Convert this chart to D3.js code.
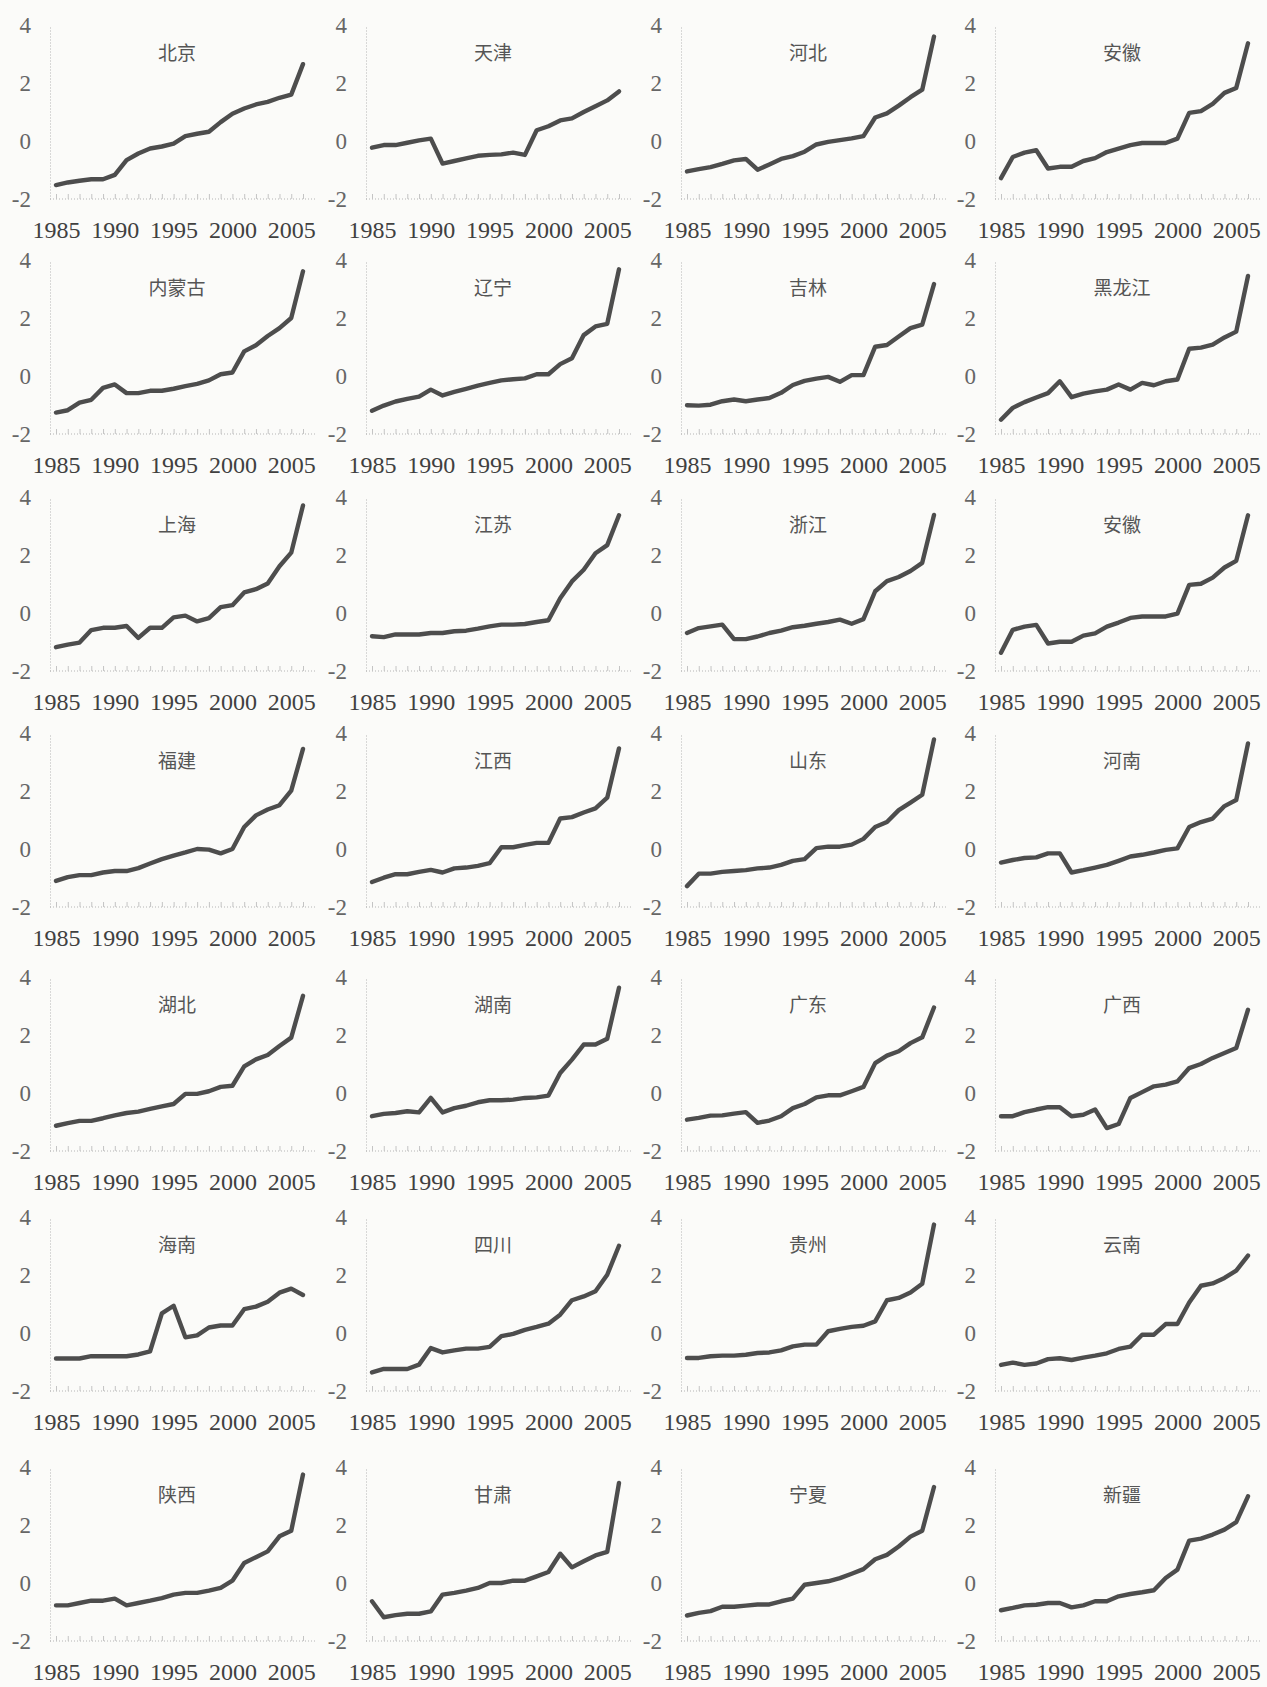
<!DOCTYPE html>
<html>
<head>
<meta charset="utf-8">
<script src="https://cdn.jsdelivr.net/npm/d3@7.9.0/dist/d3.min.js"></script>
<style>
  body { margin: 0; background: #fbfbf9; }
  svg { display: block; }
</style>
</head>
<body>
<svg id="chart" width="1267" height="1687"></svg>
<script>
// years on the x axis, 1985-2006
const years = [1985, 1986, 1987, 1988, 1989, 1990, 1991, 1992, 1993, 1994, 1995,
               1996, 1997, 1998, 1999, 2000, 2001, 2002, 2003, 2004, 2005, 2006];
const xTicks = [1985, 1990, 1995, 2000, 2005];
const yTicks = [4, 2, 0, -2];

// values
const beijing   = [-1.52,-1.43,-1.37,-1.32,-1.32,-1.17,-0.66,-0.43,-0.26,-0.19,-0.09,0.17,0.25,0.32,0.65,0.94,1.12,1.26,1.35,1.49,1.60,2.65];
const tianjin   = [-0.23,-0.14,-0.14,-0.06,0.02,0.08,-0.78,-0.69,-0.60,-0.51,-0.48,-0.46,-0.40,-0.48,0.37,0.51,0.71,0.78,1.00,1.20,1.40,1.71];
const hebei     = [-1.05,-0.97,-0.90,-0.79,-0.67,-0.62,-0.99,-0.81,-0.62,-0.52,-0.37,-0.12,-0.03,0.03,0.09,0.17,0.81,0.95,1.22,1.51,1.77,3.60];
const anhuiA    = [-1.28,-0.55,-0.40,-0.32,-0.95,-0.89,-0.89,-0.69,-0.59,-0.38,-0.26,-0.14,-0.07,-0.07,-0.07,0.08,0.97,1.03,1.28,1.66,1.83,3.37];
const neimenggu = [-1.26,-1.18,-0.92,-0.82,-0.41,-0.29,-0.59,-0.59,-0.51,-0.51,-0.44,-0.35,-0.27,-0.15,0.06,0.12,0.85,1.06,1.38,1.65,2.00,3.61];
const liaoning  = [-1.20,-1.02,-0.88,-0.79,-0.71,-0.47,-0.67,-0.55,-0.44,-0.33,-0.24,-0.15,-0.11,-0.08,0.06,0.06,0.41,0.61,1.41,1.71,1.80,3.68];
const jilin     = [-1.01,-1.02,-0.99,-0.87,-0.81,-0.87,-0.81,-0.76,-0.58,-0.31,-0.17,-0.09,-0.03,-0.20,0.03,0.03,1.01,1.07,1.36,1.65,1.77,3.17];
const heilongjiang = [-1.51,-1.10,-0.90,-0.74,-0.59,-0.18,-0.73,-0.61,-0.53,-0.47,-0.29,-0.47,-0.24,-0.32,-0.18,-0.12,0.94,0.98,1.08,1.33,1.53,3.45];
const shanghai  = [-1.18,-1.09,-1.02,-0.59,-0.51,-0.51,-0.45,-0.86,-0.51,-0.51,-0.15,-0.09,-0.29,-0.18,0.20,0.27,0.71,0.82,1.02,1.61,2.08,3.71];
const jiangsu   = [-0.80,-0.83,-0.74,-0.74,-0.74,-0.69,-0.69,-0.63,-0.61,-0.54,-0.46,-0.40,-0.40,-0.38,-0.31,-0.25,0.51,1.09,1.49,2.06,2.34,3.37];
const zhejiang  = [-0.69,-0.52,-0.46,-0.40,-0.90,-0.90,-0.81,-0.69,-0.61,-0.49,-0.44,-0.37,-0.31,-0.23,-0.37,-0.21,0.75,1.10,1.24,1.45,1.73,3.38];
const anhuiB    = [-1.37,-0.58,-0.47,-0.41,-1.05,-0.99,-0.99,-0.78,-0.70,-0.47,-0.33,-0.17,-0.12,-0.12,-0.12,-0.02,0.97,1.01,1.22,1.57,1.80,3.37];
const fujian    = [-1.10,-0.97,-0.90,-0.90,-0.81,-0.76,-0.76,-0.66,-0.50,-0.35,-0.23,-0.12,0.00,-0.02,-0.15,0.00,0.76,1.16,1.36,1.51,2.01,3.45];
const jiangxi   = [-1.14,-0.99,-0.87,-0.87,-0.79,-0.72,-0.81,-0.67,-0.64,-0.58,-0.49,0.06,0.06,0.14,0.21,0.21,1.05,1.10,1.26,1.40,1.77,3.47];
const shandong  = [-1.28,-0.85,-0.85,-0.79,-0.76,-0.73,-0.67,-0.64,-0.55,-0.41,-0.35,0.03,0.08,0.08,0.15,0.35,0.76,0.93,1.34,1.60,1.87,3.78];
const henan     = [-0.47,-0.38,-0.31,-0.29,-0.15,-0.15,-0.81,-0.73,-0.64,-0.55,-0.41,-0.26,-0.20,-0.12,-0.03,0.02,0.76,0.93,1.05,1.48,1.69,3.64];
const hubei     = [-1.13,-1.04,-0.96,-0.96,-0.87,-0.77,-0.69,-0.64,-0.55,-0.46,-0.38,-0.03,-0.03,0.06,0.21,0.25,0.92,1.16,1.31,1.62,1.91,3.35];
const hunan     = [-0.80,-0.72,-0.69,-0.63,-0.67,-0.17,-0.67,-0.52,-0.44,-0.32,-0.25,-0.25,-0.23,-0.17,-0.15,-0.09,0.69,1.15,1.67,1.67,1.87,3.63];
const guangdong = [-0.92,-0.86,-0.78,-0.77,-0.71,-0.66,-1.03,-0.95,-0.80,-0.52,-0.38,-0.15,-0.08,-0.08,0.06,0.21,1.03,1.29,1.44,1.72,1.92,2.95];
const guangxi   = [-0.80,-0.80,-0.66,-0.57,-0.49,-0.49,-0.80,-0.75,-0.57,-1.21,-1.07,-0.17,0.03,0.23,0.29,0.40,0.86,1.00,1.21,1.38,1.55,2.87];
const hainan    = [-0.88,-0.88,-0.88,-0.80,-0.80,-0.80,-0.80,-0.74,-0.63,0.68,0.94,-0.15,-0.08,0.19,0.26,0.26,0.82,0.91,1.08,1.39,1.53,1.31];
const sichuan   = [-1.36,-1.24,-1.24,-1.24,-1.09,-0.52,-0.67,-0.60,-0.54,-0.54,-0.48,-0.11,-0.03,0.11,0.21,0.32,0.63,1.13,1.26,1.44,2.01,3.01];
const guizhou   = [-0.86,-0.86,-0.80,-0.78,-0.78,-0.75,-0.69,-0.67,-0.60,-0.46,-0.40,-0.40,0.06,0.14,0.21,0.25,0.40,1.13,1.21,1.40,1.70,3.74];
const yunnan    = [-1.10,-1.02,-1.10,-1.05,-0.90,-0.87,-0.93,-0.85,-0.78,-0.70,-0.55,-0.47,-0.06,-0.06,0.31,0.31,1.05,1.63,1.71,1.90,2.15,2.67];
const shaanxi   = [-0.77,-0.77,-0.69,-0.61,-0.61,-0.54,-0.77,-0.69,-0.61,-0.52,-0.40,-0.34,-0.34,-0.26,-0.17,0.08,0.69,0.89,1.09,1.61,1.80,3.74];
const gansu     = [-0.63,-1.18,-1.11,-1.06,-1.06,-0.98,-0.40,-0.34,-0.26,-0.17,0.00,0.00,0.08,0.08,0.23,0.38,1.01,0.54,0.75,0.95,1.07,3.45];
const ningxia   = [-1.12,-1.03,-0.97,-0.82,-0.82,-0.78,-0.74,-0.74,-0.63,-0.54,-0.06,0.00,0.06,0.17,0.32,0.48,0.82,0.97,1.26,1.60,1.80,3.31];
const xinjiang  = [-0.94,-0.86,-0.77,-0.75,-0.69,-0.69,-0.84,-0.77,-0.63,-0.63,-0.46,-0.38,-0.32,-0.25,0.17,0.46,1.46,1.53,1.67,1.84,2.10,2.99];

const provinces = ["北京", "天津", "河北", "安徽",
                   "内蒙古", "辽宁", "吉林", "黑龙江",
                   "上海", "江苏", "浙江", "安徽",
                   "福建", "江西", "山东", "河南",
                   "湖北", "湖南", "广东", "广西",
                   "海南", "四川", "贵州", "云南",
                   "陕西", "甘肃", "宁夏", "新疆"];
const series = [beijing, tianjin, hebei, anhuiA,
                neimenggu, liaoning, jilin, heilongjiang,
                shanghai, jiangsu, zhejiang, anhuiB,
                fujian, jiangxi, shandong, henan,
                hubei, hunan, guangdong, guangxi,
                hainan, sichuan, guizhou, yunnan,
                shaanxi, gansu, ningxia, xinjiang];

// layout of the scanned page (y of the "4" level per row, x of 1985 per column)
const ROW_TOP = [25, 260, 497, 733, 977, 1217, 1467];
const COL_X = [56, 372, 687, 1001];
const PANEL_W = 247, PANEL_H = 174;
const SERIF = "'Liberation Serif', 'DejaVu Serif', serif";

const svg = d3.select("#chart");

provinces.forEach((name, i) => {
    const row = Math.floor(i / 4), col = i % 4;
    const x0 = COL_X[col], top = ROW_TOP[row];

    const x = d3.scaleLinear().domain([1985, 2006]).range([x0, x0 + PANEL_W]);
    const y = d3.scaleLinear().domain([-2, 4]).range([top + PANEL_H, top]);

    const g = svg.append("g").attr("class", "panel");

    // y axis: dotted line + labels
    const yAxis = g.append("g")
        .attr("transform", `translate(${x0 - 6},0)`)
        .call(d3.axisLeft(y).tickValues(yTicks).tickSize(0).tickPadding(19).tickFormat(d => d));
    yAxis.attr("font-family", SERIF);
    yAxis.select(".domain")
        .attr("stroke", "#b5b5b5").attr("stroke-width", 1).attr("stroke-dasharray", "1,2");
    yAxis.selectAll("text")
        .attr("font-family", SERIF)
        .attr("font-size", 23).attr("fill", "#666");

    // x axis baseline with little yearly ticks
    g.append("line")
        .attr("x1", x0 - 6).attr("x2", x(2006) + 14)
        .attr("y1", y(-2)).attr("y2", y(-2))
        .attr("stroke", "#b5b5b5").attr("stroke-dasharray", "1,2");
    const minor = g.append("g")
        .attr("transform", `translate(0,${y(-2)})`)
        .call(d3.axisBottom(x).tickValues(years).tickSize(-5).tickFormat(""));
    minor.select(".domain").remove();
    minor.selectAll("line").attr("stroke", "#c4c4c4");

    // year labels
    const xAxis = g.append("g")
        .attr("transform", `translate(0,${y(-2)})`)
        .call(d3.axisBottom(x).tickValues(xTicks).tickSize(0).tickPadding(22).tickFormat(d3.format("d")));
    xAxis.attr("font-family", SERIF);
    xAxis.select(".domain").remove();
    xAxis.selectAll("text")
        .attr("font-family", SERIF)
        .attr("font-size", 24).attr("fill", "#404040");

    // province name
    g.append("text")
        .attr("x", x0 + 121).attr("y", top + 35)
        .attr("text-anchor", "middle")
        .attr("font-family", "'Noto Sans CJK SC', sans-serif")
        .attr("font-size", 19).attr("fill", "#555")
        .text(name);

    // the series
    const line = d3.line()
        .x((d, j) => x(years[j]))
        .y(d => y(d));
    g.append("path")
        .datum(series[i])
        .attr("d", line)
        .attr("fill", "none")
        .attr("stroke", "#4d4d4d")
        .attr("stroke-width", 4.4)
        .attr("stroke-linejoin", "round")
        .attr("stroke-linecap", "round");
});
</script>
</body>
</html>
